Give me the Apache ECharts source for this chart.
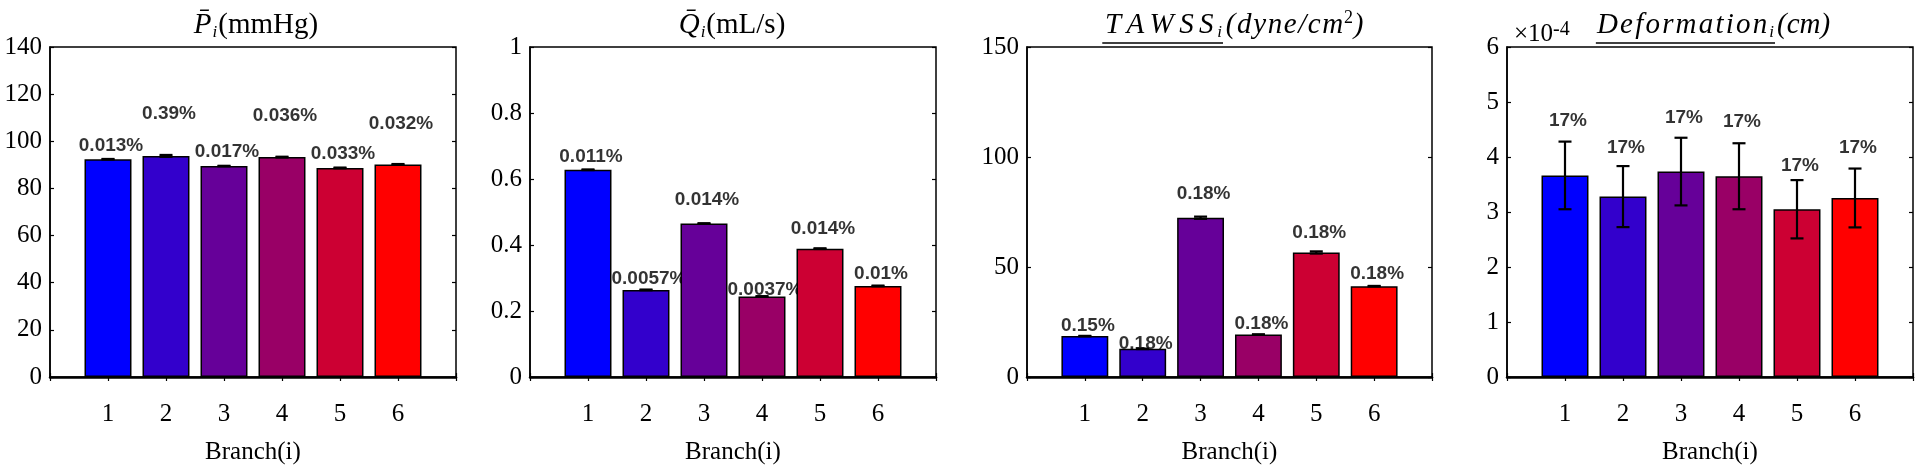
<!DOCTYPE html>
<html><head><meta charset="utf-8">
<script src="https://cdn.jsdelivr.net/npm/echarts@6/dist/echarts.min.js"></script>
<style>html,body{margin:0;padding:0;background:#fff}#c{width:1920px;height:470px}</style>
</head><body><div id="c"></div>
<script>
// ---------- data ----------
const categories = ['1', '2', '3', '4', '5', '6'];

const pressureMean = [92.4, 93.8, 89.5, 93.3, 88.7, 90.2];
const pressureErr = [0.1, 0.4, 0.1, 0.15, 0.15, 0.15];
const pressurePct = ['0.013%', '0.39%', '0.017%', '0.036%', '0.033%', '0.032%'];
const pressureLabelY = [100.2, 113.7, 97.5, 113.0, 96.7, 109.4];

const flowMean = [0.628, 0.264, 0.465, 0.244, 0.389, 0.276];
const flowErr = [0.001, 0.001, 0.001, 0.001, 0.001, 0.001];
const flowPct = ['0.011%', '0.0057%', '0.014%', '0.0037%', '0.014%', '0.01%'];
const flowLabelY = [0.684, 0.314, 0.552, 0.280, 0.465, 0.329];

const tawssMean = [18.6, 12.8, 72.4, 19.3, 56.6, 41.3];
const tawssErr = [0.1, 0.1, 0.5, 0.1, 0.5, 0.1];
const tawssPct = ['0.15%', '0.18%', '0.18%', '0.18%', '0.18%', '0.18%'];
const tawssLabelY = [25.5, 17.2, 85.5, 26.3, 67.8, 49.0];

// deformation in units of 1e-4 cm
const deformMean = [3.665, 3.28, 3.735, 3.65, 3.05, 3.255];
const deformErr = [0.615, 0.555, 0.615, 0.60, 0.53, 0.535];
const deformPct = ['17%', '17%', '17%', '17%', '17%', '17%'];
const deformLabelY = [4.745, 4.25, 4.81, 4.73, 3.94, 4.25];

const yTicksP = {min: 0, max: 140, interval: 20};
const yTicksQ = {min: 0, max: 1, interval: 0.2};
const yTicksT = {min: 0, max: 150, interval: 50};
const yTicksD = {min: 0, max: 6, interval: 1};

// ---------- styles ----------
const barColors = ['#0000FF', '#3300CC', '#660099', '#990066', '#CC0033', '#FF0000'];
const SERIF = "'Liberation Serif', 'Times New Roman', serif";
const SANS = "'Liberation Sans', Arial, sans-serif";
const GRID_TOP = 47, GRID_H = 342;

const panels = [
  {left: 50, width: 406, ticks: yTicksP, mean: pressureMean, err: pressureErr, pct: pressurePct, ly: pressureLabelY,
   fmt: v => String(v)},
  {left: 530, width: 406, ticks: yTicksQ, mean: flowMean, err: flowErr, pct: flowPct, ly: flowLabelY,
   fmt: v => (Math.abs(v) < 1e-9 ? '0' : (Math.abs(v - 1) < 1e-9 ? '1' : v.toFixed(1)))},
  {left: 1027, width: 405, ticks: yTicksT, mean: tawssMean, err: tawssErr, pct: tawssPct, ly: tawssLabelY,
   fmt: v => String(v)},
  {left: 1507, width: 406, ticks: yTicksD, mean: deformMean, err: deformErr, pct: deformPct, ly: deformLabelY,
   fmt: v => String(v)}
];

const axisCats = [''].concat(categories, ['']);

const grid = [], xAxis = [], yAxis = [], series = [];
panels.forEach((p, k) => {
  grid.push({left: p.left, top: GRID_TOP, width: p.width, height: GRID_H,
    show: true, borderColor: '#000', borderWidth: 1.5, backgroundColor: '#fff', containLabel: false});
  xAxis.push({type: 'category', gridIndex: k, data: axisCats, boundaryGap: false, position: 'bottom',
    axisLine: {show: true, lineStyle: {color: '#000', width: 2.5}},
    axisTick: {show: true, inside: true, length: 4, lineStyle: {color: '#000', width: 1.2}},
    axisLabel: {show: true, fontFamily: SERIF, fontSize: 25, color: '#000', margin: 25, interval: 0},
    splitLine: {show: false},
    name: 'Branch(i)', nameLocation: 'middle', nameGap: 63,
    nameTextStyle: {fontFamily: SERIF, fontSize: 25, color: '#000'}});
  xAxis.push({type: 'category', gridIndex: k, data: axisCats, boundaryGap: false, position: 'top',
    axisLine: {show: false},
    axisTick: {show: true, inside: true, length: 4, lineStyle: {color: '#000', width: 1.2}},
    axisLabel: {show: false}, splitLine: {show: false}});
  yAxis.push({type: 'value', gridIndex: k, min: p.ticks.min, max: p.ticks.max, interval: p.ticks.interval,
    position: 'left',
    axisLine: {show: true, lineStyle: {color: '#000', width: 1.5}},
    axisTick: {show: true, inside: true, length: 4, lineStyle: {color: '#000', width: 1.2}},
    axisLabel: {fontFamily: SERIF, fontSize: 25, color: '#000', margin: 8, formatter: p.fmt},
    splitLine: {show: false}});
  yAxis.push({type: 'value', gridIndex: k, min: p.ticks.min, max: p.ticks.max, interval: p.ticks.interval,
    position: 'right',
    axisLine: {show: false},
    axisTick: {show: true, inside: true, length: 4, lineStyle: {color: '#000', width: 1.2}},
    axisLabel: {show: false}, splitLine: {show: false}});

  const xi = 2 * k, yi = 2 * k;
  // percentage labels (drawn beneath the bars so bars can cover them)
  series.push({type: 'scatter', xAxisIndex: xi, yAxisIndex: yi, z: 1, silent: true,
    symbol: 'circle', symbolSize: 1, itemStyle: {color: 'rgba(0,0,0,0)'},
    data: p.pct.map((t, i) => ({value: [i + 1, p.ly[i]], name: t})),
    label: {show: true, position: 'inside', offset: [3, 5], formatter: d => d.name,
      fontFamily: SANS, fontSize: 19, fontWeight: 'bold', color: '#000'}});
  series.push({type: 'bar', xAxisIndex: xi, yAxisIndex: yi, z: 3, barWidth: '81%',
    data: p.mean.map((v, i) => ({value: [i + 1, v],
      itemStyle: {color: barColors[i], borderColor: '#000', borderWidth: 1.5}}))});
  series.push({type: 'custom', xAxisIndex: xi, yAxisIndex: yi, z: 5, silent: true,
    data: p.mean.map((v, i) => [i + 1, v - p.err[i], v + p.err[i]]),
    renderItem: (params, api) => {
      const x = api.value(0);
      const lo = api.coord([x, api.value(1)]);
      const hi = api.coord([x, api.value(2)]);
      const cap = 6.5;
      const st = {stroke: '#000', lineWidth: 2.2};
      return {type: 'group', children: [
        {type: 'line', shape: {x1: hi[0], y1: hi[1], x2: lo[0], y2: lo[1]}, style: st},
        {type: 'line', shape: {x1: hi[0] - cap, y1: hi[1], x2: hi[0] + cap, y2: hi[1]}, style: st},
        {type: 'line', shape: {x1: lo[0] - cap, y1: lo[1], x2: lo[0] + cap, y2: lo[1]}, style: st}
      ]};
    }});
});

// ---------- titles ----------
const TS = 29;
const up = {fontFamily: SERIF, fontSize: TS, fontWeight: 'normal', color: '#000', lineHeight: 32};
const it = Object.assign({}, up, {fontStyle: 'italic'});
const itT = Object.assign({}, it, {padding: [0, 2.7, 0, 2.7]});
const itD = Object.assign({}, it, {padding: [0, 1.1, 0, 1.1]});
const itP = Object.assign({}, it, {padding: [0, 0.8, 0, 0.8]});
const sub = {fontFamily: SERIF, fontStyle: 'italic', fontWeight: 'normal', fontSize: 17, color: '#000',
  lineHeight: 17, verticalAlign: 'bottom', padding: [0, 1, 0, 1]};
const sup = {fontFamily: SERIF, fontWeight: 'normal', fontSize: 18, color: '#000', lineHeight: 18, verticalAlign: 'top'};
const uline = {width: '100%', height: 1.6, lineHeight: 4, fontSize: 1, backgroundColor: '#000'};
const spread = (s, key) => s.split('').map(c => '{' + key + '|' + c + '}').join('');
const tstyle = (rich) => ({fontFamily: SERIF, fontSize: TS, fontWeight: 'normal', color: '#000', lineHeight: 32, rich});

const title = [
  {text: '{v|P\u0304}{s|i}{r|(mmHg)}', left: 251, top: 4, textAlign: 'center',
   textStyle: tstyle({v: it, s: sub, r: up})},
  {text: '{v|Q\u0304}{s|i}{r|(mL/s)}', left: 727, top: 4, textAlign: 'center',
   textStyle: tstyle({v: it, s: sub, r: up})},
  {text: spread('TAWSS', 't') + '{s|i}\n{u| }', left: 1218, top: 4, textAlign: 'right',
   textStyle: tstyle({t: itT, s: sub, u: uline})},
  {text: spread('(dyne/cm', 'v') + '{p|2}{v|)}', left: 1220, top: 4, textAlign: 'left',
   textStyle: tstyle({v: itP, p: sup})},
  {text: spread('Deformation', 'd') + '{s|i}\n{u| }', left: 1770, top: 4, textAlign: 'right',
   textStyle: tstyle({d: itD, s: sub, u: uline})},
  {text: '{v|(cm)}', left: 1772, top: 4, textAlign: 'left',
   textStyle: tstyle({v: it})},
  {text: '{m|\u00d710}{p|-4}', left: 1509, top: 15,
   textStyle: {fontFamily: SERIF, fontSize: 25, fontWeight: 'normal', color: '#000', rich: {
     m: {fontFamily: SERIF, fontWeight: 'normal', fontSize: 25, color: '#000', lineHeight: 28},
     p: {fontFamily: SERIF, fontWeight: 'normal', fontSize: 20, color: '#000', lineHeight: 20, verticalAlign: 'top'}}}}
];

const chart = echarts.init(document.getElementById('c'), null, {renderer: 'canvas'});
chart.setOption({animation: false, backgroundColor: '#fff', title, grid, xAxis, yAxis, series});
</script>
</body></html>
